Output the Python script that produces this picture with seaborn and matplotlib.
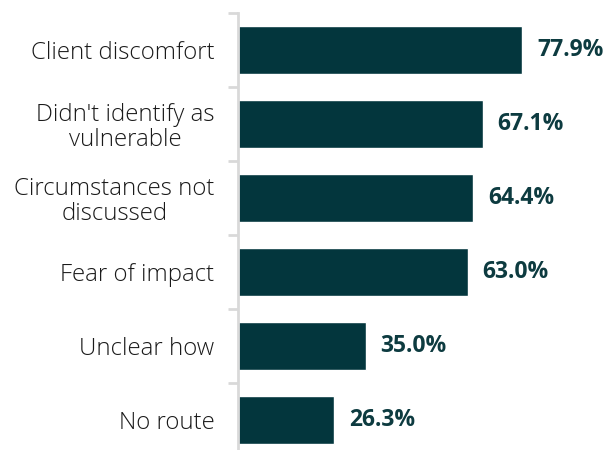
import matplotlib
matplotlib.use("Agg")
import matplotlib.pyplot as plt
import seaborn as sns
import pandas as pd
import numpy as np
from matplotlib.ticker import FixedLocator

categories = ["Client discomfort", "Didn't identify as\nvulnerable", "Circumstances not\ndiscussed",
              "Fear of impact", "Unclear how", "No route"]
values = [77.9, 67.1, 64.4, 63.0, 35.0, 26.3]
value_labels = ["77.9%", "67.1%", "64.4%", "63.0%", "35.0%", "26.3%"]

sns.set_style("white")
plt.rcParams['font.family'] = ['Open Sans', 'DejaVu Sans']

df = pd.DataFrame({"reason": categories, "pct": values})

fig = plt.figure(figsize=(6.06, 4.5), dpi=100)
ax = fig.add_axes([238/606, 0, 1 - 238/606, (450-13)/450])

sns.barplot(data=df, y="reason", x="pct", color="#03363d", width=0.66, ax=ax, saturation=1, orient="h")

ax.set_xlim(0, (606-238)/3.646)
ax.set_ylim(5.5 - 7/74, -0.5)
ax.set_xlabel("")
ax.set_ylabel("")
ax.set_xticks([])

for i, (v, lab) in enumerate(zip(values, value_labels)):
    ax.text(v + 15/3.646, i, lab, va="center", ha="left", fontsize=16.5,
            fontweight="bold", color="#0d3b40")

ax.tick_params(axis="y", which="major", left=False, length=0, pad=17, labelsize=17.3, labelcolor="#1a1a1a")
for t in ax.get_yticklabels():
    t.set_multialignment("center")
    t.set_linespacing(1.05)
    t.set_fontweight("light")
ax.yaxis.set_minor_locator(FixedLocator(np.arange(-0.5, 6, 1.0)))
ax.tick_params(axis="y", which="minor", left=True, length=7, width=2, color="#d9d9d9")

for s in ["top", "right", "bottom"]:
    ax.spines[s].set_visible(False)
ax.spines["left"].set_color("#d9d9d9")
ax.spines["left"].set_linewidth(2)

fig.savefig("out.png", dpi=100)
